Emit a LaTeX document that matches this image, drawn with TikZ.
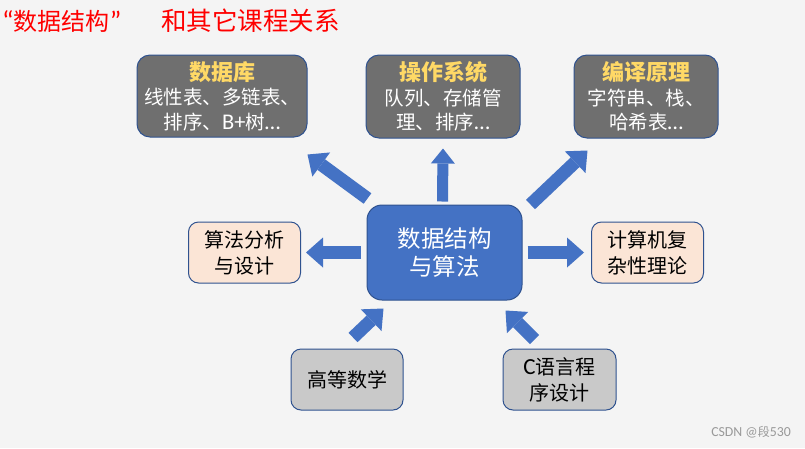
\documentclass[tikz,border=0pt]{standalone}
\usepackage{fontspec}
\setmainfont{Noto Sans CJK SC}
\newfontfamily\latin[Scale=1.15]{Carlito}
\usepackage{xcolor}
\usetikzlibrary{arrows.meta,positioning,calc}
\definecolor{pagebg}{HTML}{F4F4F4}
\definecolor{edgeblue}{HTML}{2F528F}
\definecolor{mainblue}{HTML}{4472C4}
\definecolor{boxgray}{HTML}{6F6F6F}
\definecolor{lightgray}{HTML}{C9C9C9}
\definecolor{peach}{HTML}{FBE5D6}
\definecolor{headyel}{HTML}{FFD966}
\newcommand{\boxhead}[1]{{\fontsize{22}{24.5}\selectfont\bfseries\color{headyel}#1}}

\begin{document}
\begin{tikzpicture}[x=1pt, y=-1pt,
  darkbox/.style={rectangle, draw=edgeblue, line width=1pt, fill=boxgray, rounded corners=13pt,
                  align=center, inner sep=0pt, text=white, font=\fontsize{19.5}{24.5}\selectfont},
  smallbox/.style={rectangle, draw=edgeblue, line width=1pt, rounded corners=10pt,
                   minimum width=112pt, minimum height=61pt, align=center, inner sep=0pt,
                   font=\fontsize{20}{26}\selectfont},
  blk/.style={draw=mainblue, line width=13pt, -{Triangle[length=17pt, width=30pt, line width=0pt]}}
]
\fill[pagebg] (0,0) rectangle (805,448);
\useasboundingbox (0,0) rectangle (805,448);

% 标题
\node[anchor=west, text=red, font=\fontsize{24}{28}\selectfont, inner sep=0pt] (title) at (2,21)
  {{\latin “}数据结构{\latin ”}\hspace{40pt}{\fontsize{25.5}{28}\selectfont 和其它课程关系}};

% 上面三门课
\node[darkbox, minimum width=170pt, minimum height=82pt] (db) at (222,96)
  {\boxhead{数据库}\\线性表、多链表、\\排序、{\latin B+}树{\latin …}};
\node[darkbox, minimum width=154pt, minimum height=83pt] (os) at (443,96.5)
  {\boxhead{操作系统}\\队列、存储管\\理、排序{\latin …}};
\node[darkbox, minimum width=144pt, minimum height=83pt] (cp) at (646,96.5)
  {\boxhead{编译原理}\\字符串、栈、\\哈希表{\latin …}};

% 中间
\node[rectangle, draw=edgeblue, line width=1pt, fill=mainblue, rounded corners=15pt,
      minimum width=155pt, minimum height=95pt, align=center, inner sep=0pt, text=white,
      font=\fontsize{23.5}{28}\selectfont] (ds) at (444.5,252.5) {数据结构\\与算法};
\node[smallbox, fill=peach] (ag) at (244.5,252.5) {算法分析\\与设计};
\node[smallbox, fill=peach] (cx) at (647.5,252.5) {计算机复\\杂性理论};

% 下面两门课
\node[smallbox, fill=lightgray] (hm) at (347,379.5) {高等数学};
\node[smallbox, fill=lightgray, minimum width=113pt] (cl) at (559.5,379.5) {{\latin C}语言程\\序设计};

% 箭头
\draw[blk] ($(ds.north west)+(1,-6)$) -- ($(db.south east)+(0,17)$);
\draw[blk, line width=11pt, -{Triangle[length=15pt, width=24pt, line width=0pt]}]
  ($(ds.north)+(-2,-3)$) -- ($(os.south)+(0,10)$);
\draw[blk] ($(ds.north east)+(8,0)$) -- ($(cp.south west)+(14,12)$);
\draw[blk] ($(ds.west)+(-6,0)$) -- ($(ag.east)+(5,0)$);
\draw[blk] ($(ds.east)+(5,0)$) -- ($(cx.west)+(-7,0)$);
\draw[blk] ($(hm.north)+(6,-11)$) -- ($(ds.south west)+(17,8)$);
\draw[blk] ($(cl.north)+(-25,-9)$) -- ($(ds.south east)+(-17,10)$);

% 水印
\node[anchor=east, text=gray!80, font=\fontsize{12}{14}\selectfont, inner sep=0pt] (mark) at (791,432)
  {{\latin CSDN @}段{\latin 530}};
\end{tikzpicture}
\end{document}
